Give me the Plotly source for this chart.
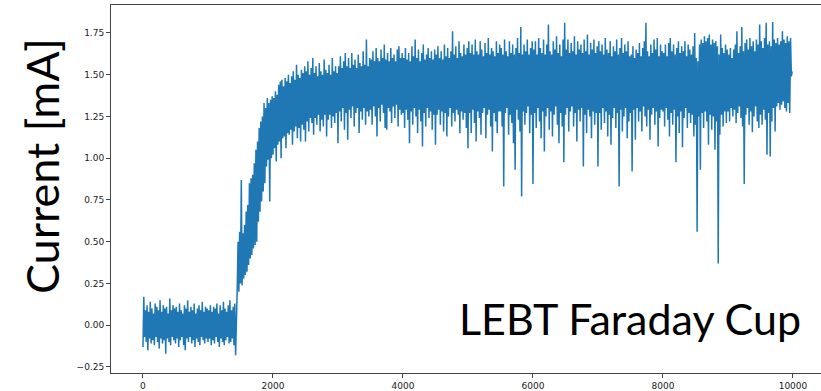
import plotly.graph_objects as go

# Sample spacing of the envelope readings (sample index units)
step = 25

# Upper envelope of the signal, one reading per 25 samples (index 0 .. 9975)
upper = [
    0.17,0.09,0.12,0.08,0.14,0.10,0.07,0.13,0.11,0.09,0.15,0.08,0.12,0.10,0.11,0.07,0.16,0.09,0.12,0.10,
    0.11,0.08,0.13,0.09,0.07,0.12,0.10,0.15,0.08,0.11,0.09,0.13,0.07,0.10,0.12,0.09,0.14,0.08,0.11,0.10,
    0.09,0.12,0.08,0.11,0.10,0.13,0.07,0.12,0.09,0.14,0.10,0.08,0.12,0.15,0.09,0.11,0.13,0.17,0.50,0.56,
    0.87,0.55,0.60,0.68,0.72,0.85,0.88,0.90,0.97,1.05,1.10,1.18,1.22,1.25,1.33,1.30,1.36,1.33,1.35,1.37,
    1.36,1.40,1.38,1.44,1.46,1.47,1.43,1.48,1.46,1.50,1.45,1.49,1.52,1.47,1.56,1.50,1.48,1.53,1.51,1.55,
    1.52,1.58,1.50,1.54,1.60,1.51,1.55,1.49,1.57,1.52,1.50,1.59,1.53,1.51,1.56,1.50,1.60,1.52,1.55,1.51,
    1.55,1.61,1.54,1.58,1.63,1.55,1.60,1.54,1.63,1.56,1.59,1.54,1.62,1.57,1.55,1.64,1.56,1.71,1.55,1.60,
    1.59,1.64,1.58,1.66,1.60,1.58,1.65,1.60,1.68,1.59,1.63,1.58,1.66,1.60,1.62,1.58,1.65,1.67,1.60,1.63,
    1.60,1.66,1.59,1.63,1.58,1.67,1.61,1.71,1.60,1.65,1.58,1.63,1.68,1.59,1.62,1.66,1.60,1.64,1.59,1.65,
    1.62,1.67,1.60,1.64,1.59,1.68,1.61,1.66,1.60,1.64,1.76,1.62,1.67,1.60,1.70,1.63,1.61,1.68,1.62,1.66,
    1.70,1.63,1.68,1.62,1.71,1.64,1.62,1.70,1.65,1.61,1.69,1.63,1.72,1.62,1.66,1.64,1.61,1.70,1.63,1.68,
    1.66,1.62,1.71,1.64,1.61,1.70,1.63,1.68,1.62,1.66,1.72,1.63,1.785,1.62,1.68,1.64,1.71,1.62,1.66,1.70,
    1.65,1.70,1.62,1.72,1.66,1.63,1.71,1.62,1.68,1.80,1.64,1.62,1.70,1.65,1.73,1.63,1.68,1.61,1.71,1.81,
    1.65,1.71,1.63,1.69,1.64,1.73,1.62,1.70,1.65,1.68,1.63,1.71,1.64,1.74,1.62,1.69,1.65,1.71,1.63,1.67,
    1.70,1.64,1.68,1.62,1.72,1.65,1.63,1.70,1.61,1.67,1.64,1.71,1.62,1.66,1.72,1.63,1.68,1.64,1.70,1.61,
    1.62,1.67,1.60,1.65,1.63,1.69,1.61,1.66,1.70,1.81,1.64,1.61,1.68,1.63,1.71,1.65,1.72,1.61,1.68,1.64,
    1.63,1.68,1.61,1.69,1.72,1.64,1.68,1.62,1.66,1.70,1.63,1.67,1.64,1.70,1.61,1.68,1.65,1.62,1.67,1.75,
    1.60,1.58,1.68,1.71,1.69,1.73,1.70,1.72,1.74,1.68,1.71,1.69,1.70,1.67,1.62,1.74,1.66,1.63,1.68,1.65,
    1.62,1.66,1.60,1.65,1.68,1.76,1.63,1.67,1.785,1.64,1.69,1.71,1.65,1.72,1.67,1.70,1.64,1.71,1.68,1.80,
    1.70,1.66,1.72,1.81,1.68,1.70,1.67,1.815,1.71,1.69,1.72,1.68,1.70,1.76,1.71,1.69,1.73,1.70,1.72,1.52,
]

# Lower envelope of the signal, same sampling
lower = [
    -0.13,-0.07,-0.10,-0.15,-0.08,-0.11,-0.09,-0.12,-0.07,-0.10,-0.14,-0.08,-0.11,-0.09,-0.17,-0.08,-0.10,-0.12,-0.07,-0.09,
    -0.11,-0.08,-0.13,-0.09,-0.07,-0.12,-0.15,-0.08,-0.10,-0.07,-0.11,-0.09,-0.13,-0.08,-0.10,-0.12,-0.07,-0.09,-0.11,-0.08,
    -0.10,-0.08,-0.12,-0.09,-0.11,-0.07,-0.10,-0.13,-0.08,-0.10,-0.12,-0.09,-0.07,-0.11,-0.10,-0.08,-0.12,-0.18,0.22,0.20,
    0.25,0.24,0.28,0.30,0.32,0.36,0.40,0.42,0.46,0.48,0.50,0.62,0.68,0.74,0.80,0.85,0.95,0.99,0.74,1.00,
    1.02,1.06,0.98,1.08,1.10,1.00,1.12,1.13,1.06,1.15,1.14,1.17,1.08,1.16,1.19,1.12,1.18,1.10,1.20,1.17,
    1.10,1.22,1.16,1.24,1.21,1.14,1.24,1.20,1.26,1.16,1.23,1.19,1.26,1.13,1.23,1.26,1.18,1.25,1.21,1.27,
    1.09,1.28,1.22,1.30,1.17,1.27,1.11,1.29,1.24,1.31,1.19,1.27,1.30,1.15,1.28,1.23,1.30,1.20,1.28,1.25,
    1.29,1.20,1.31,1.25,1.13,1.30,1.22,1.32,1.27,1.18,1.17,1.30,1.28,1.21,1.31,1.24,1.32,1.19,1.29,1.26,
    1.27,1.18,1.29,1.23,1.09,1.28,1.20,1.30,1.25,1.15,1.29,1.22,1.07,1.27,1.19,1.30,1.24,1.28,1.17,1.26,
    1.08,1.26,1.29,1.20,1.28,1.16,1.27,1.13,1.25,1.30,1.19,1.27,1.22,1.29,1.26,1.15,1.28,1.23,1.27,1.18,
    1.06,1.27,1.15,1.29,1.21,1.10,1.28,1.24,1.14,1.27,1.30,1.12,1.26,1.29,1.19,1.04,1.27,1.22,1.15,1.28,
    1.28,1.19,0.83,1.27,1.30,1.14,1.26,1.21,1.09,0.93,1.29,1.23,1.16,0.77,1.28,1.20,1.27,1.31,1.15,1.26,
    0.845,1.27,1.18,1.30,1.22,1.12,1.28,1.04,1.25,1.30,1.17,1.28,1.13,1.26,1.31,1.20,1.09,1.27,1.19,0.975,
    1.26,1.30,1.16,1.28,1.31,1.19,1.27,1.10,1.29,1.22,1.30,0.95,1.26,1.15,1.29,1.25,1.12,1.28,1.20,1.27,
    0.95,1.27,1.17,1.30,1.21,1.28,1.13,1.26,1.08,1.24,1.30,1.18,1.27,0.83,1.29,1.16,1.25,1.30,1.12,1.22,
    1.27,0.92,1.29,1.11,1.30,1.22,1.28,1.16,1.31,1.25,1.19,1.29,1.11,1.26,1.30,1.20,1.28,1.07,1.24,1.29,
    1.28,1.19,1.30,1.23,1.13,1.27,1.20,1.29,0.975,1.25,1.15,1.28,1.065,1.24,1.30,1.18,1.27,1.21,1.26,1.13,
    1.20,0.56,1.25,0.93,1.27,1.18,1.28,1.22,1.08,1.26,1.17,1.25,1.05,1.22,0.37,1.14,1.26,1.19,1.28,1.21,
    1.28,1.22,1.30,1.25,1.29,1.21,1.27,1.31,1.24,1.19,0.845,1.26,1.30,1.20,1.28,1.155,1.25,1.31,1.22,1.18,
    1.26,1.20,1.29,1.23,1.02,1.27,1.01,1.22,1.30,1.16,1.31,1.33,1.29,1.32,1.34,1.30,1.28,1.33,1.27,1.49,
]

x_ticks = [0, 2000, 4000, 6000, 8000, 10000]
y_ticks = [-0.25, 0.00, 0.25, 0.50, 0.75, 1.00, 1.25, 1.50, 1.75]
y_label = "Current [mA]"
title_text = "LEBT Faraday Cup"

# Build the trace as a zig-zag between lower and upper readings
xs, ys = [], []
for i, (lo, hi) in enumerate(zip(lower, upper)):
    xs.append(i * step)
    ys.append(lo)
    xs.append(i * step + step / 2)
    ys.append(hi)

fig = go.Figure()
fig.add_trace(go.Scatter(x=xs, y=ys, mode="lines",
                         line=dict(color="#1f77b4", width=1.5),
                         hoverinfo="skip", showlegend=False))

W, H = 821, 391
L, R, T, B = 111, 0, 5, 16
fig.update_layout(
    width=W, height=H,
    margin=dict(l=L, r=R, t=T, b=B, pad=0),
    paper_bgcolor="white", plot_bgcolor="white",
    font=dict(family="DejaVu Sans", size=9, color="#222"),
    xaxis=dict(range=[-492, 10431], tickvals=x_ticks, ticktext=[str(v) for v in x_ticks],
               showgrid=False, zeroline=False, showline=True, linecolor="#444", linewidth=1,
               mirror=True, ticks="outside", ticklen=4, tickcolor="#444",
               tickfont=dict(family="DejaVu Sans", size=9, color="#222")),
    yaxis=dict(range=[-0.286, 1.917], tickvals=y_ticks, ticktext=[f"{v:.2f}".replace("-", "\u2212") for v in y_ticks],
               showgrid=False, zeroline=False, showline=True, linecolor="#444", linewidth=1,
               ticks="outside", ticklen=4, tickcolor="#444",
               tickfont=dict(family="DejaVu Sans", size=9, color="#222")),
)

fig.add_annotation(text=y_label, xref="paper", yref="paper",
                   x=(42 - L) / (W - L - R), y=(H - B - 167) / (H - T - B),
                   xanchor="center", yanchor="middle", textangle=-90, showarrow=False,
                   font=dict(family="Lato", size=45, color="black"))
fig.add_annotation(text=title_text, xref="x", yref="y",
                   x=10154, y=0.042, xanchor="right", yanchor="middle", showarrow=False,
                   font=dict(family="Lato", size=43, color="black"))

fig.write_html("out.html")
